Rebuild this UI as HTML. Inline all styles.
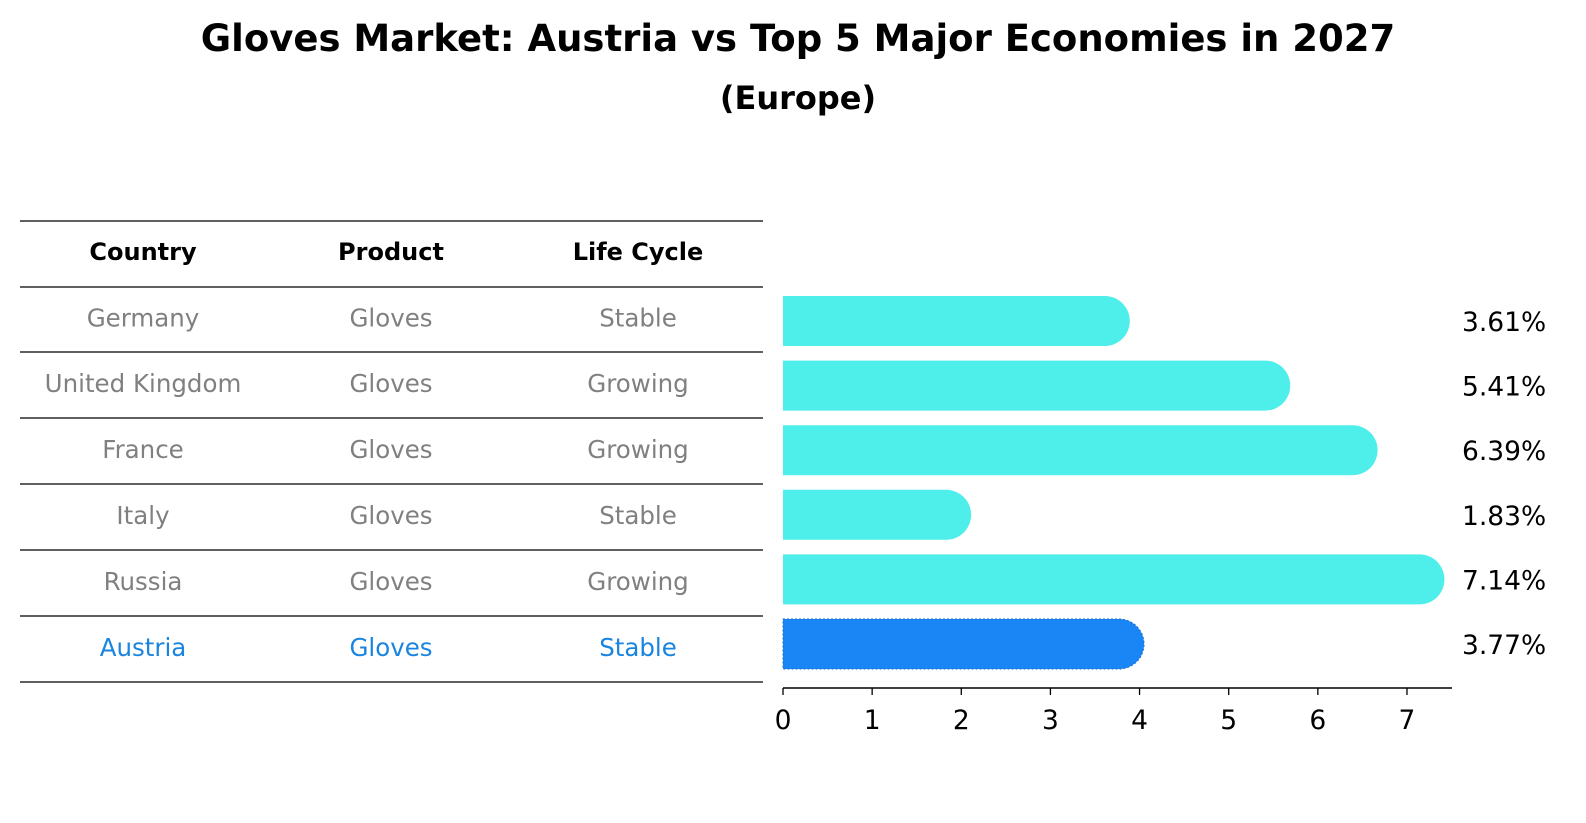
<!DOCTYPE html>
<html><head><meta charset="utf-8"><style>
html,body{margin:0;padding:0;background:#fff;overflow:hidden;width:1586px;height:823px}
svg{display:block}
</style></head><body>
<svg id="c" width="1586" height="823" viewBox="0 0 1586 823" xmlns="http://www.w3.org/2000/svg" font-family="DejaVu Sans, Liberation Sans, sans-serif">
<text x="798" y="51" text-anchor="middle" font-size="37" font-weight="bold">Gloves Market: Austria vs Top 5 Major Economies in 2027</text>
<text x="798" y="109" text-anchor="middle" font-size="32" font-weight="bold">(Europe)</text>
<g id="tbl"></g>
<g id="bars"></g>
<g id="axis"></g>
</svg>
<script>
const countries=["Germany","United Kingdom","France","Italy","Russia","Austria"];
const products=["Gloves","Gloves","Gloves","Gloves","Gloves","Gloves"];
const lifecycle=["Stable","Growing","Growing","Stable","Growing","Stable"];
const values=[3.61,5.41,6.39,1.83,7.14,3.77];
const ticks=[0,1,2,3,4,5,6,7];
const NS="http://www.w3.org/2000/svg";
function mk(t,a,p,txt){const e=document.createElementNS(NS,t);for(const k in a)e.setAttribute(k,a[k]);if(txt!==undefined)e.textContent=txt;p.appendChild(e);return e;}
const x=v=>783+v*89.14;
const rowY=i=>321+i*64.6;
const tbl=document.getElementById('tbl'),bars=document.getElementById('bars'),axis=document.getElementById('axis');
const lines=[221,287,352,418,484,550,616,682];
lines.forEach(y=>{const l=mk('line',{x1:20,x2:763,y1:y,y2:y,stroke:'#000','stroke-width':1.2},tbl);

});
const cols=[143,391,638];
["Country","Product","Life Cycle"].forEach((h,j)=>{const t=mk('text',{x:cols[j],y:260,'text-anchor':'middle','font-size':24,'font-weight':'bold'},tbl,h);

});
countries.forEach((c,i)=>{const last=i===countries.length-1;const fill=last?'#1a85e0':'#808080';
[c,products[i],lifecycle[i]].forEach((v,j)=>{const t=mk('text',{x:cols[j],y:(lines[i+1]+lines[i+2])/2+7,'text-anchor':'middle','font-size':24.5,fill:fill},tbl,v);

});
const y=rowY(i),h=50,r=25,x0=x(0),x1=x(values[i]);
const col=last?'#1a85f5':'#4eeeea';
const p=mk('path',{d:`M${x0},${y-h/2} H${x1} A${r},${r} 0 0 1 ${x1},${y+h/2} H${x0} Z`,fill:col},bars);
if(last){p.setAttribute('stroke','#1a6fd0');p.setAttribute('stroke-dasharray','2,2');p.setAttribute('stroke-width','1');}


const t=mk('text',{x:1462,y:y+10,'font-size':26.5},bars,values[i].toFixed(2)+'%');

});
const al=mk('line',{x1:783,x2:1452,y1:688,y2:688,stroke:'#000','stroke-width':1.5},axis);


ticks.forEach(v=>{const tl=mk('line',{x1:x(v),x2:x(v),y1:688,y2:695,stroke:'#000','stroke-width':1.3},axis);


const t=mk('text',{x:x(v),y:729,'text-anchor':'middle','font-size':26.5},axis,String(v));

});
</script>
</body></html>
